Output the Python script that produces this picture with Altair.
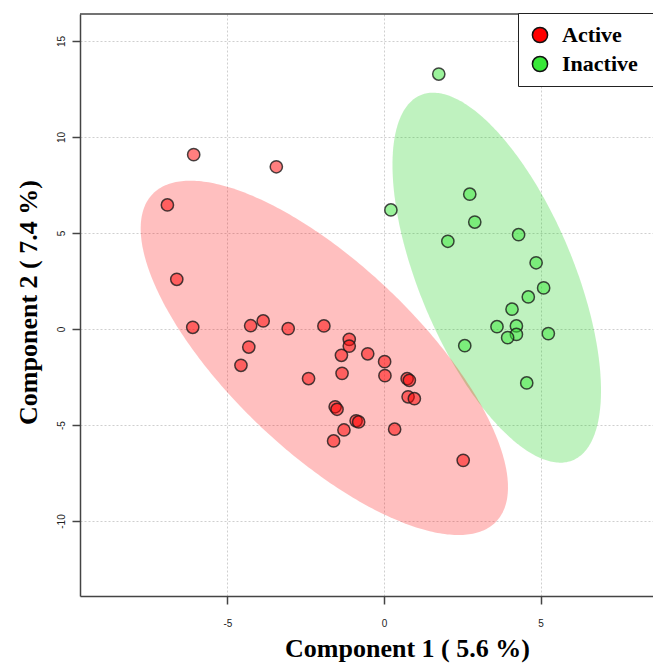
import altair as alt
import numpy as np
import pandas as pd

# ---------------- data ----------------
groups = ["Active", "Inactive"]
group_colors = ["#FF0000", "#38E838"]

active_x = [-6.08, -3.44, -6.92, -6.62, -6.11, -4.26, -3.86, -3.06, -4.32, -4.57,
            -1.92, -1.11, -1.11, -1.36, -0.52, 0.02, -1.34, -2.41, 0.03, 0.74,
            0.81, 0.77, 0.97, -1.56, -1.50, -0.89, -0.81, -1.28, -1.61, 0.34, 2.53]
active_y = [9.08, 8.45, 6.46, 2.59, 0.09, 0.17, 0.42, 0.02, -0.94, -1.89,
            0.16, -0.54, -0.89, -1.37, -1.29, -1.70, -2.31, -2.58, -2.43, -2.59,
            -2.67, -3.53, -3.63, -4.05, -4.18, -4.78, -4.84, -5.26, -5.83, -5.22, -6.84]

inactive_x = [1.75, 0.22, 2.74, 2.90, 2.04, 4.30, 4.86, 5.10, 4.61, 4.09,
              3.61, 4.23, 4.23, 3.95, 5.25, 2.58, 4.56]
inactive_y = [13.28, 6.20, 7.02, 5.57, 4.57, 4.91, 3.45, 2.14, 1.67, 1.03,
              0.12, 0.16, -0.28, -0.45, -0.24, -0.87, -2.81]

# confidence ellipses (centre, half extents along x / y, tilt as cos of phase)
ellipse_center_x = [-1.906, 3.602]
ellipse_center_y = [-1.503, 2.672]
ellipse_half_x = [5.867, 3.331]
ellipse_half_y = [9.227, 9.635]
ellipse_phase_cos = [-0.73, -0.61]
ellipse_fill = ["#FF0000", "#00CC00"]

x_ticks = [-5, 0, 5]
y_ticks = [-10, -5, 0, 5, 10, 15]
x_domain = [-9.712, 8.594]
y_domain = [-13.906, 16.406]

x_title = "Component 1 ( 5.6 %)"
y_title = "Component 2 ( 7.4 %)"

# ---------------- tables ----------------
points = pd.DataFrame({
    "x": active_x + inactive_x,
    "y": active_y + inactive_y,
    "group": [groups[0]] * len(active_x) + [groups[1]] * len(inactive_x),
})


def ellipse_table(i):
    s = np.linspace(0, np.pi, 181)
    u = np.cos(s)
    c = ellipse_phase_cos[i]
    sn = np.sqrt(1 - c * c)
    root = np.sqrt(np.clip(1 - u * u, 0, None))
    return pd.DataFrame({
        "x": ellipse_center_x[i] + ellipse_half_x[i] * u,
        "y": ellipse_center_y[i] + ellipse_half_y[i] * (u * c + root * sn),
        "y2": ellipse_center_y[i] + ellipse_half_y[i] * (u * c - root * sn),
        "fill": ellipse_fill[i],
    })


W, H = 573, 582

xscale = alt.Scale(domain=x_domain, nice=False, zero=False)
yscale = alt.Scale(domain=y_domain, nice=False, zero=False)

x_axis = alt.Axis(
    values=x_ticks, title=x_title, grid=True, gridDash=[2, 2], gridColor="#cfcfcf",
    domainColor="#444", domainWidth=1.5, tickColor="#444", tickWidth=1.5, tickSize=8,
    labelFont="Liberation Sans", labelFontSize=10, labelColor="#222", labelPadding=14,
    labelExpr="'' + datum.value",
    titleFont="Liberation Serif", titleFontWeight="bold", titleFontSize=26, titleColor="#000",
    titleX=327, titleY=60, titleAlign="center", titleBaseline="alphabetic",
)
y_axis = alt.Axis(
    values=y_ticks, title=y_title, grid=True, gridDash=[2, 2], gridColor="#cfcfcf",
    domainColor="#444", domainWidth=1.5, tickColor="#444", tickWidth=1.5, tickSize=8,
    labelFont="Liberation Sans", labelFontSize=10, labelColor="#222", labelPadding=6,
    labelAngle=270, labelAlign="center", labelBaseline="bottom",
    labelExpr="'' + datum.value",
    titleFont="Liberation Serif", titleFontWeight="bold", titleFontSize=26, titleColor="#000",
    titleX=-52, titleY=288, titleAlign="center", titleBaseline="middle", titleAngle=270,
)


def ellipse_layer(i):
    return alt.Chart(ellipse_table(i)).mark_area(opacity=0.25, interpolate="linear").encode(
        x=alt.X("x:Q", scale=xscale, axis=x_axis),
        y=alt.Y("y:Q", scale=yscale, axis=y_axis),
        y2="y2:Q",
        fill=alt.Fill("fill:N", scale=None),
    )


pts = alt.Chart(points).mark_circle(
    size=150, fillOpacity=0.5, stroke="#1a1a1a", strokeWidth=1.5, strokeOpacity=0.8
).encode(
    x=alt.X("x:Q", scale=xscale, axis=x_axis),
    y=alt.Y("y:Q", scale=yscale, axis=y_axis),
    color=alt.Color(
        "group:N",
        scale=alt.Scale(domain=groups, range=group_colors),
        legend=alt.Legend(
            # small invisible spacer title on the right makes the box run past the edge
            title="M", titleOrient="right", titleOpacity=0, titleFontSize=10,
            titlePadding=4,
            orient="none", legendX=438, legendY=-1,
            fillColor="white", strokeColor="#222", padding=11,
            symbolType="circle", symbolSize=230, symbolStrokeColor="#111",
            symbolStrokeWidth=1.5, symbolOpacity=1,
            labelFont="Liberation Serif", labelFontWeight="bold", labelFontSize=22,
            labelColor="#000", labelOffset=11, rowPadding=7,
        ),
    ),
)

top_line = alt.Chart(pd.DataFrame({"k": [0]})).mark_rule(
    color="#444", strokeWidth=1.5
).encode(x=alt.value(0), x2=alt.value(W), y=alt.value(0))

chart = alt.layer(
    ellipse_layer(1), ellipse_layer(0), pts, top_line
).properties(
    width=W, height=H,
    autosize=alt.AutoSizeParams(type="none"),
    padding={"left": 80, "top": 14, "right": 0, "bottom": 70},
).configure_view(stroke=None)

chart.save("out.html", embed_options={"renderer": "svg", "actions": False})
